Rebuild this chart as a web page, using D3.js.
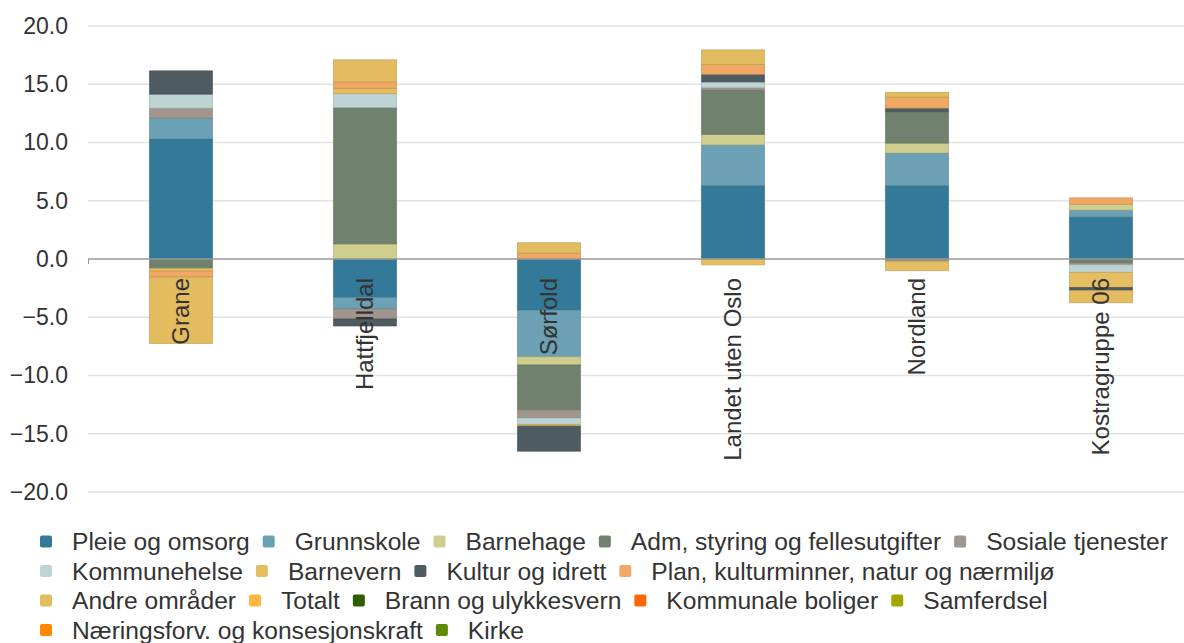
<!DOCTYPE html>
<html>
<head>
<meta charset="utf-8">
<script src="https://cdn.jsdelivr.net/npm/d3@7"></script>
<style>
  body { margin: 0; background: #fff; }
  text { font-family: "Liberation Sans", Arial, sans-serif; }
</style>
</head>
<body>
<div id="chart"></div>
<script>
// categories (municipalities / groups)
const categories = ["Grane", "Hattfjelldal", "Sørfold", "Landet uten Oslo", "Nordland", "Kostragruppe 06"];

// series names, in stacking order
const seriesNames = [
  "Pleie og omsorg", "Grunnskole", "Barnehage", "Adm, styring og fellesutgifter", "Sosiale tjenester",
  "Kommunehelse", "Barnevern", "Kultur og idrett", "Plan, kulturminner, natur og nærmiljø",
  "Andre områder", "Totalt", "Brann og ulykkesvern", "Kommunale boliger", "Samferdsel",
  "Næringsforv. og konsesjonskraft", "Kirke"
];

// values per series, one per category
const pleie       = [10.3, -3.3, -4.4, 6.3, 6.3, 3.6];
const grunnskole  = [1.8, -1.0, -4.0, 3.5, 2.8, 0.6];
const barnehage   = [0, 1.3, -0.7, 0.9, 0.85, 0.5];
const adm         = [-0.8, 11.7, -3.85, 3.8, 2.7, -0.35];
const sosiale     = [0.85, -0.85, -0.7, 0.2, -0.2, -0.15];
const helse       = [1.2, 1.2, -0.55, 0.5, 0, -0.65];
const barnevern   = [-0.25, 0.45, -0.15, -0.5, -0.8, -1.3];
const kultur      = [2.0, -0.6, -2.15, 0.65, 0.3, -0.25];
const plan        = [-0.5, 0.55, 0.5, 0.85, 0.95, 0.55];
const andre       = [-5.7, 1.9, 0.9, 1.25, 0.4, -1.05];
const totalt      = [0, 0, 0, 0, 0, 0];
const brann       = [0, 0, 0, 0, 0, 0];
const boliger     = [0, 0, 0, 0, 0, 0];
const samferdsel  = [0, 0, 0, 0, 0, 0];
const naering     = [0, 0, 0, 0, 0, 0];
const kirke       = [0, 0, 0, 0, 0, 0];

const seriesValues = [pleie, grunnskole, barnehage, adm, sosiale, helse, barnevern, kultur,
  plan, andre, totalt, brann, boliger, samferdsel, naering, kirke];

const colors = ["#337a99", "#6ca0b4", "#d0ce8e", "#70826e", "#a0968e", "#bed4d4", "#e4be60", "#4e5c62",
  "#f0a864", "#e2bc5e", "#ffb640", "#2e5e00", "#ff6600", "#a0a800", "#ff8800", "#5c8a00"];

const yTicks = [-20, -15, -10, -5, 0, 5, 10, 15, 20];

const width = 1184, height = 643;
const svg = d3.select("#chart").append("svg")
  .attr("width", width)
  .attr("height", height);

const x = d3.scaleBand().domain(categories).range([89, 1193]);
const y = d3.scaleLinear().domain([-20, 20]).range([492, 26]);
const barW = 63;

// table for the stack
const table = categories.map(function(c, i) {
  const row = { category: c };
  seriesNames.forEach(function(s, j) { row[s] = seriesValues[j][i]; });
  return row;
});

const stack = d3.stack()
  .keys(seriesNames)
  .order(d3.stackOrderNone)
  .offset(d3.stackOffsetDiverging);
const layers = stack(table);

// grid
svg.append("g").selectAll("line")
  .data(yTicks.filter(function(t) { return t !== 0; }))
  .enter().append("line")
  .attr("x1", 88).attr("x2", width)
  .attr("y1", function(d) { return y(d); })
  .attr("y2", function(d) { return y(d); })
  .attr("stroke", "#e2e2e2")
  .attr("stroke-width", 1.5);

// y axis labels
const yAxis = d3.axisLeft(y).tickValues(yTicks).tickFormat(d3.format(".1f")).tickSize(0).tickPadding(0);
svg.append("g")
  .attr("transform", "translate(68,0)")
  .call(yAxis)
  .call(function(g) { g.select(".domain").remove(); })
  .selectAll("text")
  .attr("font-size", "23px")
  .attr("font-family", "Liberation Sans, Arial, sans-serif")
  .attr("fill", "#333");

// bars
svg.append("g").selectAll("g")
  .data(layers)
  .enter().append("g")
  .attr("fill", function(d, i) { return colors[i]; })
  .attr("stroke", function(d, i) { return d3.color(colors[i]).darker(0.6); })
  .attr("stroke-opacity", 0.6)
  .selectAll("rect")
  .data(function(d) { return d.filter(function(p) { return p[1] - p[0] !== 0; }); })
  .enter().append("rect")
  .attr("x", function(d) { return x(d.data.category) + x.bandwidth() / 2 - barW / 2; })
  .attr("width", barW)
  .attr("y", function(d) { return y(d[1]); })
  .attr("height", function(d) { return y(d[0]) - y(d[1]); });

// zero line
svg.append("line")
  .attr("x1", 88).attr("x2", width)
  .attr("y1", y(0)).attr("y2", y(0))
  .attr("stroke", "#999").attr("stroke-width", 1.5);
svg.append("line")
  .attr("x1", 88.5).attr("x2", 88.5)
  .attr("y1", y(0)).attr("y2", y(0) + 5)
  .attr("stroke", "#999");

// category labels
svg.append("g").selectAll("text")
  .data(categories)
  .enter().append("text")
  .attr("transform", function(d) {
    return "translate(" + (x(d) + x.bandwidth() / 2) + "," + (y(0) + 19) + ") rotate(-90)";
  })
  .attr("text-anchor", "end")
  .attr("dy", "0.35em")
  .attr("font-size", "24px")
  .attr("fill", "#333")
  .text(function(d) { return d; });

// legend
const legend = svg.append("g");
let lx = 40, ly = 541.5;
seriesNames.forEach(function(name, i) {
  const item = legend.append("g");
  const t = item.append("text")
    .attr("x", 32).attr("y", 0).attr("dy", "0.35em")
    .attr("font-size", "24.6px")
    .attr("fill", "#333")
    .text(name);
  const w = 32 + t.node().getComputedTextLength();
  if (lx + w > width) { lx = 40; ly += 29.5; }
  item.append("rect")
    .attr("x", 0).attr("y", -6).attr("width", 12).attr("height", 12)
    .attr("rx", 2)
    .attr("fill", colors[i]);
  item.attr("transform", "translate(" + lx + "," + ly + ")");
  lx += w + 13;
});
</script>
</body>
</html>
